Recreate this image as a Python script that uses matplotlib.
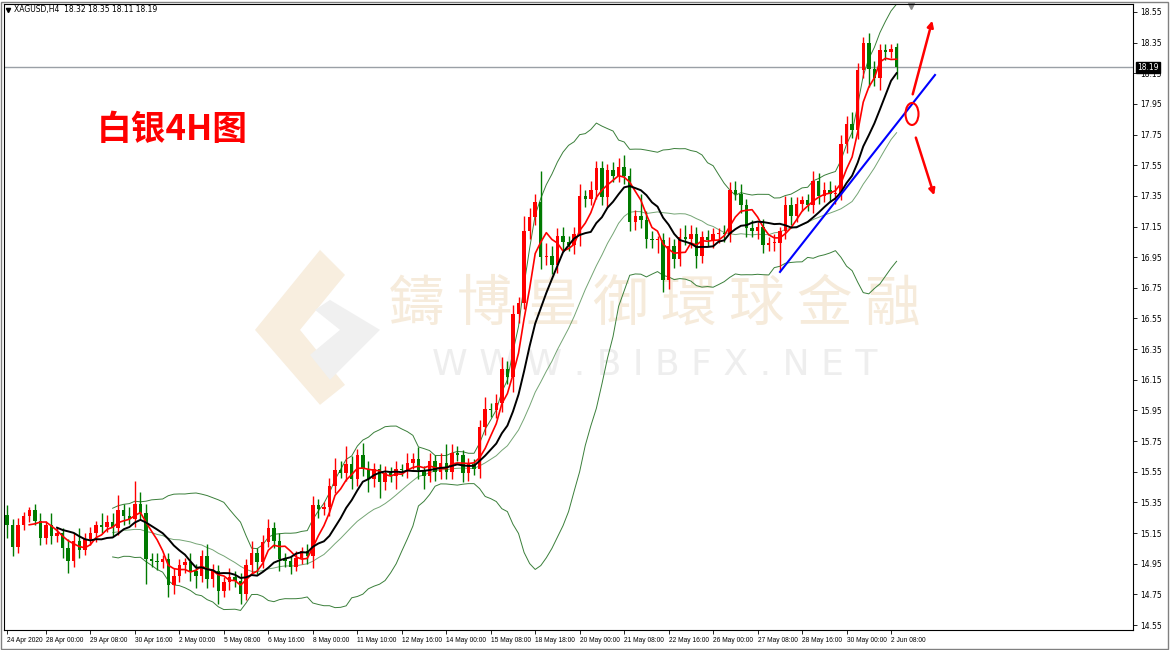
import numpy as np
import pandas as pd
import matplotlib
matplotlib.use("Agg")
import matplotlib.pyplot as plt
from matplotlib.patches import Ellipse, Polygon

# H4 closes, bar 0 = 24 Apr 2020
closes = [
    15.20, 15.06, 15.20, 15.26, 15.30, 15.23, 15.12, 15.20, 15.13, 15.15,
    15.05, 14.97, 15.10, 15.04, 15.11, 15.15, 15.20, 15.19, 15.22, 15.18,
    15.30, 15.26, 15.24, 15.34, 15.28, 14.98, 14.97, 14.96, 14.98, 14.81,
    14.87, 14.94, 14.96, 14.90, 14.87, 15.00, 14.85, 14.90, 14.77, 14.83,
    14.86, 14.84, 14.75, 14.94, 15.02, 14.96, 15.09, 15.18, 15.10, 14.98,
    14.97, 14.93, 14.99, 15.03, 15.00, 15.33, 15.31, 15.32, 15.46, 15.56,
    15.54, 15.60, 15.50, 15.66, 15.57, 15.50, 15.57, 15.48, 15.54, 15.52,
    15.57, 15.56, 15.61, 15.63, 15.56, 15.52, 15.62, 15.55, 15.61, 15.55,
    15.67, 15.66, 15.54, 15.60, 15.57, 15.84, 15.96, 15.95, 16.00, 16.22,
    16.17, 16.58, 16.65, 17.12, 17.21, 17.31, 16.95, 16.96, 16.90, 17.09,
    17.05, 17.03, 17.10, 17.35, 17.33, 17.39, 17.53, 17.34, 17.52, 17.48,
    17.54, 17.48, 17.18, 17.22, 17.19, 17.07, 17.06, 17.06, 16.80, 17.02,
    16.94, 17.08, 17.07, 17.10, 16.96, 17.08, 17.06, 17.10, 17.11, 17.10,
    17.39, 17.36, 17.29, 17.14, 17.12, 17.15, 17.03, 17.04, 17.04, 17.12,
    17.29, 17.22, 17.30, 17.32, 17.29, 17.45, 17.35, 17.39, 17.36, 17.37,
    17.69, 17.82, 17.78, 18.17, 18.35, 18.18, 18.12, 18.30, 18.29, 18.31,
    18.19,
]
first_open = 15.27
last_open = 18.32

# wick lengths in cents above / below the body
wick_up = [
    6, 4, 5, 3, 2, 4, 5, 3, 8, 4,
    3, 6, 5, 8, 4, 4, 3, 8, 5, 6,
    10, 4, 6, 15, 8, 6, 4, 5, 3, 4,
    5, 4, 3, 6, 5, 4, 8, 5, 4, 3,
    6, 4, 5, 4, 8, 3, 5, 6, 4, 5,
    4, 3, 4, 3, 5, 6, 4, 3, 5, 8,
    6, 12, 5, 4, 8, 5, 4, 3, 5, 4,
    5, 3, 6, 4, 8, 3, 5, 4, 6, 12,
    6, 5, 3, 4, 3, 5, 8, 4, 6, 8,
    5, 6, 4, 10, 6, 5, 20, 8, 6, 5,
    6, 4, 5, 8, 4, 6, 5, 5, 4, 5,
    6, 8, 5, 4, 14, 6, 5, 3, 5, 6,
    5, 6, 8, 6, 5, 4, 5, 4, 3, 5,
    5, 6, 7, 4, 5, 3, 5, 4, 6, 3,
    6, 5, 4, 3, 4, 6, 5, 5, 6, 5,
    6, 5, 8, 5, 4, 6, 5, 4, 4, 3,
    3,
]
wick_dn = [
    8, 6, 4, 3, 4, 3, 5, 4, 5, 4,
    6, 8, 4, 5, 3, 4, 6, 4, 3, 5,
    4, 6, 3, 5, 4, 16, 4, 5, 4, 8,
    6, 4, 5, 6, 8, 4, 6, 5, 8, 4,
    5, 4, 6, 4, 5, 8, 4, 3, 5, 8,
    4, 5, 3, 4, 5, 8, 6, 4, 6, 5,
    3, 5, 6, 4, 5, 8, 5, 10, 5, 4,
    8, 4, 5, 4, 6, 8, 4, 6, 5, 5,
    5, 4, 6, 5, 4, 6, 5, 4, 5, 6,
    5, 10, 6, 4, 5, 5, 8, 5, 6, 5,
    5, 4, 6, 8, 5, 4, 6, 5, 6, 4,
    4, 5, 6, 5, 5, 6, 5, 8, 8, 6,
    6, 5, 4, 6, 8, 5, 4, 5, 6, 5,
    5, 4, 5, 6, 4, 5, 5, 4, 5, 18,
    5, 6, 4, 5, 4, 5, 5, 4, 5, 6,
    5, 6, 5, 6, 5, 12, 5, 8, 5, 4,
    8,
]

tick_bars = [0] + [7 + 8 * k for k in range(20)]
tick_labels = ["24 Apr 2020", "28 Apr 00:00", "29 Apr 08:00", "30 Apr 16:00", "2 May 00:00",
               "5 May 08:00", "6 May 16:00", "8 May 00:00", "11 May 10:00", "12 May 16:00",
               "14 May 00:00", "15 May 08:00", "18 May 18:00", "20 May 00:00", "21 May 08:00",
               "22 May 16:00", "26 May 00:00", "27 May 08:00", "28 May 16:00", "30 May 00:00",
               "2 Jun 08:00"]
price_ticks = [round(14.55 + 0.2 * k, 2) for k in range(21)]

df = pd.DataFrame({"close": closes})
df["open"] = df["close"].shift(1)
df.loc[0, "open"] = first_open
df.loc[len(df) - 1, "open"] = last_open
df["high"] = df[["open", "close"]].max(axis=1) + np.array(wick_up) / 100
df["low"] = df[["open", "close"]].min(axis=1) - np.array(wick_dn) / 100
df["ma5"] = df["close"].rolling(5).mean()
df["ma10"] = df["close"].rolling(10).mean()
df["mid"] = df["close"].rolling(20).mean()
sd = df["close"].rolling(20).std(ddof=0)
df["up"] = df["mid"] + 2 * sd
df["dn"] = df["mid"] - 2 * sd

W, H = 1170, 650
fig = plt.figure(figsize=(W / 100, H / 100), dpi=100)
ax = fig.add_axes([4 / W, 1 - 630 / H, (1133 - 4) / W, (630 - 4) / H])

px = 5.56
x0 = 7
ax.set_xlim((4 - x0) / px, (1133 - x0) / px)
ax.set_ylim(14.55 - 5 / 153.3, 18.55 + 8 / 153.3)

def bx(p):  # pixel x -> bar coordinate
    return (p - x0) / px

def by(p):  # pixel y -> price
    return 18.55 - (p - 12) / 153.3

# watermark
logo = [[(255, 330), (320, 250), (345, 275), (300, 330), (345, 385), (320, 405)],
        [(330, 300), (380, 330), (330, 380), (310, 355), (340, 330), (315, 310)]]
for pts, c in zip(logo, ["#f8eedf", "#f0f0f0"]):
    ax.add_patch(Polygon([(bx(a), by(b)) for a, b in pts], closed=True, fc=c, ec="none", zorder=0))
ax.text(bx(655), by(305), "鑄 博 皇 御 環 球 金 融", ha="center", va="center", fontsize=40,
        color="#f6ebdb", family=["Noto Sans CJK TC", "DejaVu Sans"], zorder=0)
ax.text(bx(655), by(365), "W W W . B I B F X . N E T", ha="center", va="center", fontsize=26,
        color="#eeeeee", zorder=0)

green_band = "#3a7f3a"
x = np.arange(len(df))
ax.plot(x, df["up"], color=green_band, lw=0.7, zorder=2)
ax.plot(x, df["mid"], color=green_band, lw=0.7, alpha=0.7, zorder=2)
ax.plot(x, df["dn"], color=green_band, lw=0.7, zorder=2)

for i, r in df.iterrows():
    col = "#ff0000" if r["close"] >= r["open"] else "#007a00"
    ax.vlines(i, r["low"], r["high"], color=col, lw=1.0, zorder=3)
    lo, hi = min(r["open"], r["close"]), max(r["open"], r["close"])
    ax.bar(i, max(hi - lo, 0.006), bottom=lo, width=0.62, color=col, lw=0, zorder=4)

ax.plot(x, df["ma5"], color="#ff0000", lw=1.2, zorder=5)
ax.plot(x, df["ma10"], color="#000000", lw=1.4, zorder=5)

# current price line
ax.axhline(closes[-1], color="#9aa0a6", lw=1.0, zorder=1)

# annotations
ax.plot([bx(780), bx(935)], [by(272), by(75)], color="#0000ff", lw=1.5, zorder=6)
ax.add_patch(Ellipse((bx(912), by(114)), 13 / px, 22 / 153.3, fill=False, ec="#ff0000", lw=1.5, zorder=6))
for (a, b), (c, d) in [((912, 97), (933, 18)), ((915, 135), (935, 198))]:
    ax.annotate("", xy=(bx(c), by(d)), xytext=(bx(a), by(b)),
                arrowprops=dict(arrowstyle="-|>", color="#ff0000", lw=1.8, mutation_scale=9), zorder=6)
ax.plot([bx(911)], [by(6)], marker="v", color="#888888", ms=5, clip_on=False)

ax.text(bx(97), by(130), "白银4H图", ha="left", va="center", fontsize=25, color="#ff0000",
        fontweight="bold", family=["Noto Sans CJK SC", "DejaVu Sans"], zorder=7)
ax.text(bx(14), by(10), "XAGUSD,H4  18.32 18.35 18.11 18.19", ha="left", va="center",
        fontsize=5.5, color="#000000")
ax.plot([bx(8)], [by(10)], marker="v", color="black", ms=3)

# axes styling
ax.yaxis.tick_right()
ax.set_yticks(price_ticks)
ax.set_yticklabels([f"{p:.2f}" for p in price_ticks], fontsize=5.5)
ax.tick_params(axis="y", length=3, width=0.6, pad=2)
ax.set_xticks(tick_bars)
ax.set_xticklabels(tick_labels, fontsize=4.8, ha="left", family="Liberation Sans")
ax.tick_params(axis="x", length=3, width=0.6, pad=2)
for lbl in ax.get_xticklabels():
    lbl.set_x(lbl.get_position()[0])
for s in ax.spines.values():
    s.set_linewidth(0.8)
ax.text(1.0 + 4 / (1129), closes[-1], f"{closes[-1]:.2f}", transform=ax.get_yaxis_transform(),
        ha="left", va="center", fontsize=5.5, color="white",
        bbox=dict(boxstyle="square,pad=0.15", fc="black", ec="black"))

fig.patches.append(plt.Rectangle((1 / W, 1 / H), 1 - 3 / W, 1 - 3 / H, transform=fig.transFigure,
                                 fill=False, ec="#808080", lw=1))
fig.savefig("out.png", dpi=100, facecolor="white")
